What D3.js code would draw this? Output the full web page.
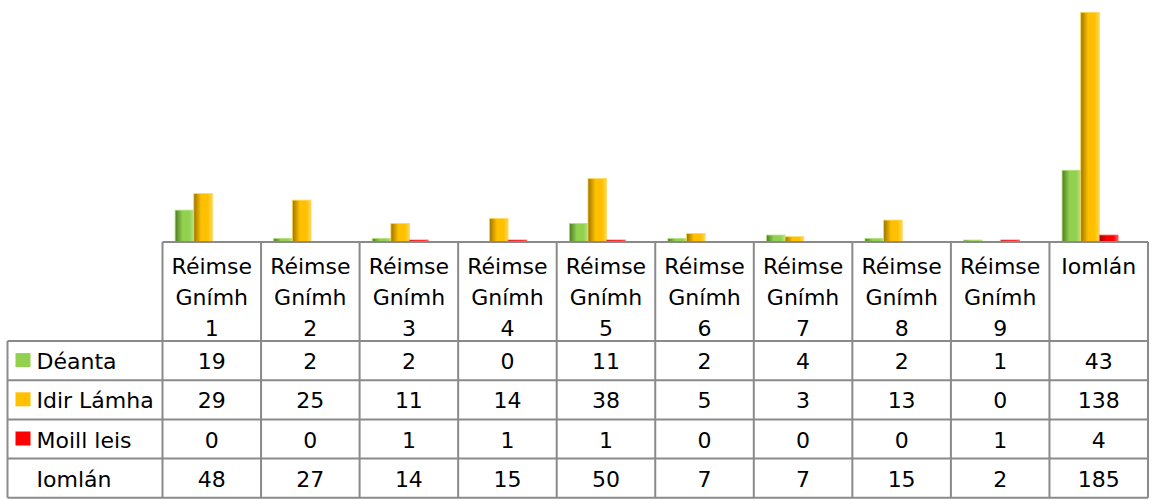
<!DOCTYPE html>
<html>
<head>
<meta charset="utf-8">
<script src="https://cdn.jsdelivr.net/npm/d3@7"></script>
<style>
body { margin: 0; background: #fff; }
text { font-family: "DejaVu Sans", sans-serif; font-size: 22px; fill: #000; }
</style>
</head>
<body>
<svg id="chart" width="1156" height="500"></svg>
<script>
// chart data
var categories = ["Réimse Gnímh 1", "Réimse Gnímh 2", "Réimse Gnímh 3", "Réimse Gnímh 4", "Réimse Gnímh 5",
    "Réimse Gnímh 6", "Réimse Gnímh 7", "Réimse Gnímh 8", "Réimse Gnímh 9", "Iomlán"];
var headerLines = [["Réimse", "Gnímh", "1"], ["Réimse", "Gnímh", "2"], ["Réimse", "Gnímh", "3"],
    ["Réimse", "Gnímh", "4"], ["Réimse", "Gnímh", "5"], ["Réimse", "Gnímh", "6"],
    ["Réimse", "Gnímh", "7"], ["Réimse", "Gnímh", "8"], ["Réimse", "Gnímh", "9"], ["Iomlán"]];
var seriesNames = ["Déanta", "Idir Lámha", "Moill leis"];
var deanta = [19, 2, 2, 0, 11, 2, 4, 2, 1, 43];
var idirLamha = [29, 25, 11, 14, 38, 5, 3, 13, 0, 138];
var moillLeis = [0, 0, 1, 1, 1, 0, 0, 0, 1, 4];
var totalLabel = "Iomlán";
var iomlan = [48, 27, 14, 15, 50, 7, 7, 15, 2, 185];

var seriesValues = [deanta, idirLamha, moillLeis];
var colors = ["#92d050", "#ffc000", "#ff0000"];
var darks = ["#4e7a22", "#9a7400", "#a00000"];
var lights = ["#b4e47e", "#ffd75a", "#ff5a5a"];

var svg = d3.select("#chart");

// table geometry
var tableLeft = 7.5, labelRight = 162.5, tableRight = 1148;
var headerTop = 242;
var rowTops = [341, 380.2, 419.4, 458.6, 497.8];

var x = d3.scaleBand()
    .domain(categories)
    .range([labelRight, tableRight])
    .padding(0);

var bw = x.bandwidth();
var xInner = d3.scaleBand()
    .domain(seriesNames)
    .range([bw * 0.128, bw * 0.696])
    .padding(0);

var y = d3.scaleLinear()
    .domain([0, 140])
    .range([241.7, 9]);

// cylinder-ish shading for the bars
var defs = svg.append("defs");
seriesNames.forEach(function (s, i) {
    var g = defs.append("linearGradient")
        .attr("id", "grad" + i)
        .attr("x1", "0%").attr("x2", "100%")
        .attr("y1", "0%").attr("y2", "0%");
    g.append("stop").attr("offset", "0%").attr("stop-color", darks[i]);
    g.append("stop").attr("offset", "40%").attr("stop-color", colors[i]);
    g.append("stop").attr("offset", "75%").attr("stop-color", colors[i]);
    g.append("stop").attr("offset", "100%").attr("stop-color", lights[i]);
});

// bars
var bars = [];
categories.forEach(function (c, ci) {
    seriesNames.forEach(function (s, si) {
        bars.push({cat: c, series: s, si: si, value: seriesValues[si][ci]});
    });
});

svg.append("g")
    .selectAll("rect")
    .data(bars.filter(function (d) { return d.value > 0; }))
    .enter().append("rect")
    .attr("x", function (d) { return x(d.cat) + xInner(d.series); })
    .attr("y", function (d) { return y(d.value); })
    .attr("width", xInner.bandwidth())
    .attr("height", function (d) { return y(0) - y(d.value); })
    .attr("fill", function (d) { return "url(#grad" + d.si + ")"; })
    .attr("stroke", function (d) { return lights[d.si]; })
    .attr("stroke-width", 0.8);

// table grid
var grid = svg.append("g")
    .attr("stroke", "#8a8a8a")
    .attr("stroke-width", 2)
    .attr("fill", "none");

grid.append("line")
    .attr("x1", labelRight).attr("x2", tableRight)
    .attr("y1", headerTop).attr("y2", headerTop);

rowTops.forEach(function (ry) {
    grid.append("line")
        .attr("x1", tableLeft).attr("x2", tableRight)
        .attr("y1", ry).attr("y2", ry);
});

grid.append("line")
    .attr("x1", tableLeft).attr("x2", tableLeft)
    .attr("y1", rowTops[0]).attr("y2", rowTops[rowTops.length - 1]);

categories.concat(["end"]).forEach(function (c, i) {
    var xx = i < categories.length ? x(c) : tableRight;
    grid.append("line")
        .attr("x1", xx).attr("x2", xx)
        .attr("y1", headerTop).attr("y2", rowTops[rowTops.length - 1]);
});

// header labels
var header = svg.append("g");
categories.forEach(function (c, i) {
    header.append("text")
        .attr("text-anchor", "middle")
        .selectAll("tspan")
        .data(headerLines[i])
        .enter().append("tspan")
        .attr("x", x(c) + bw / 2)
        .attr("y", function (d, j) { return 274 + j * 31; })
        .text(function (d) { return d; });
});

// row labels with legend keys
var rowNames = seriesNames.concat([totalLabel]);
var rowValues = seriesValues.concat([iomlan]);

rowNames.forEach(function (name, ri) {
    var mid = (rowTops[ri] + rowTops[ri + 1]) / 2;
    if (ri < seriesNames.length) {
        svg.append("rect")
            .attr("x", 15.5)
            .attr("y", mid - 7.5)
            .attr("width", 15)
            .attr("height", 14)
            .attr("fill", colors[ri]);
    }
    svg.append("text")
        .attr("x", 36.5)
        .attr("y", mid + 8.5)
        .text(name);

    svg.append("g")
        .selectAll("text")
        .data(rowValues[ri])
        .enter().append("text")
        .attr("text-anchor", "middle")
        .attr("x", function (d, i) { return x(categories[i]) + bw / 2; })
        .attr("y", mid + 8.5)
        .text(function (d) { return d; });
});
</script>
</body>
</html>
